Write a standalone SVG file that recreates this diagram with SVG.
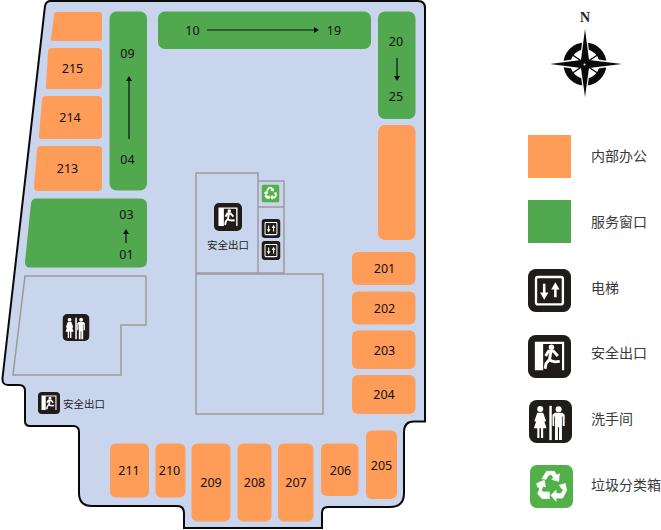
<svg xmlns="http://www.w3.org/2000/svg" width="661" height="530" viewBox="0 0 661 530">
<style>
text{font-family:"Noto Sans CJK SC","Liberation Sans",sans-serif;}
.n{font-family:"Noto Sans","Liberation Sans",sans-serif;font-size:12.5px;fill:#111;text-anchor:middle;}
.l{font-size:14px;fill:#3a3a3a;}
.s{font-size:10.5px;fill:#222;}
.o{fill:#ff9c58;}
.g{fill:#52a84e;}
.w{fill:none;stroke:#9b9b9b;stroke-width:1.5;}
.a{stroke:#111;stroke-width:1.2;fill:none;}
</style>
<defs>
<symbol id="lift" viewBox="0 0 44 44"><rect width="44" height="44" rx="8" fill="#1f1c19"/><rect x="8.200" y="8.200" width="27.500" height="28" rx="2" fill="none" stroke="#fff" stroke-width="2.400"/><path d="M16.600 15v10M28 20v9" fill="none" stroke="#fff" stroke-width="2.600"/><path d="M12.300 24h8.600l-4.300 7.500zM23.700 21h8.600L28 13.500z" fill="#fff"/></symbol>
<symbol id="exit" viewBox="0 0 44 44"><rect width="44" height="44" rx="8" fill="#1f1c19"/><path d="M7 7H37V36H34.800V9.200H15.500V36H7Z" fill="#fff"/><circle cx="24" cy="12.500" r="2.800" fill="#fff"/><path d="M18 21.500L21 16.500H26L30.500 21.500M23.500 16.500L22 25L24 26.500L27.500 27.500L32.500 27M22 25L18.500 29L17.500 34.500" fill="none" stroke="#fff" stroke-width="3"/></symbol>
<symbol id="wc" viewBox="0 0 44 44"><rect width="44" height="44" rx="8" fill="#1f1c19"/><g fill="#fff"><circle cx="11.500" cy="9.300" r="3.100"/><path d="M8.500 13H14.500L17.500 21.500L15.800 22.300L14.300 18L18 29H14.500V39H12.300V29H10.700V39H8.500V29H5L8.700 18L7.200 22.300L5.500 21.500Z"/><rect x="20.800" y="6" width="2.500" height="35"/><circle cx="30.300" cy="9.400" r="3.100"/><path d="M26.500 13H34L36.500 15V26.500H34.500V17H33.700V41H30.700V28H29.600V41H26.600V17H25.800V26.500H24V15Z"/></g></symbol>
<symbol id="rec" viewBox="0 0 44 44"><rect width="44" height="44" rx="7" fill="#52b048"/><g fill="#fff" stroke="#fff" stroke-width=".8" stroke-linejoin="round"><path d="M12.300 14L17 6.500H25L27.300 10.600L30 8.900L29.300 16.700L22.200 14.700L24.200 13.300L22.200 9.900H19.100L16.400 14.700Z"/><path d="M6.800 19L14.700 15.700L15.700 22.500L13.600 21.500L11.300 25.900L13.600 27.600H19.800V34.400H12.300L7.800 29.300L10.200 23.500L7.800 22.500Z"/><path d="M30 20.800L36 19L37.500 25.900L33.400 33.800H26.600V37.200L21.500 31L26.600 25.900V29.300H31.700L34 25.900Z"/></g></symbol>
</defs>

<g id="floor"><path d="M51 1H418Q425 1 425 8V421.500H414Q404 421.500 404 432V493Q404 507 390 507H328Q322 507 322 513V528H184V513Q184 506 177 506H92Q79 506 79 493V432Q79 426 73 426H30Q25 426 25 421V391Q25 385 19 385H8Q2 385 2.500 378L45 6Q46 1 51 1Z" fill="#c8d5ec" stroke="#0a0a0a" stroke-width="2"/></g>

<g id="walls" class="w">
<path class="w" d="M196 173H258V273H196Z"/>
<path class="w" d="M258 181H284V273H258M258 207H284"/>
<path class="w" d="M196 274H323V414H196Z"/>
<path class="w" d="M25 276H146V325H121V375H13Z"/>
</g>

<g id="offices-left">
<path id="r216" class="o" d="M57 12H99Q102 12 102 15V38Q102 41 99 41H53Q50 41 51 38L54 15Q54 12 57 12Z"/>
<path id="r215" class="o" d="M52 48H98Q102 48 102 52V85Q102 89 98 89H49Q45 89 46 85L48 52Q48 48 52 48Z"/>
<path id="r214" class="o" d="M46 96H98Q102 96 102 100V135Q102 139 98 139H42Q38 139 39 135L42 100Q42 96 46 96Z"/>
<path id="r213" class="o" d="M41 146H98Q102 146 102 150V187Q102 191 98 191H38Q34 191 34 187L37 150Q37 146 41 146Z"/>
</g>
<g id="windows">
<rect id="w0409" class="g" x="109.500" y="11.500" width="37.500" height="179" rx="7"/>
<rect id="w1019" class="g" x="158" y="11.500" width="213" height="37.500" rx="7"/>
<rect id="w2025" class="g" x="378" y="11.500" width="37.500" height="107.500" rx="7"/>
<path id="w0103" class="g" d="M36 198.500H140Q147 198.500 147 205V261Q147 267.500 140 267.500H30Q25 267.500 25 262L31 203Q32 198.500 36 198.500Z"/>
</g>
<g id="offices">
<rect class="o" x="378" y="125" width="37.500" height="115" rx="7"/>
<rect id="r201" class="o" x="352" y="252" width="63.500" height="33" rx="6"/>
<rect id="r202" class="o" x="352" y="291.500" width="63.500" height="33" rx="6"/>
<rect id="r203" class="o" x="352" y="330.500" width="63.500" height="38.500" rx="6"/>
<rect id="r204" class="o" x="352" y="375" width="63.500" height="39" rx="6"/>
<rect id="r205" class="o" x="366" y="430.500" width="31" height="68.500" rx="6"/>
<rect id="r206" class="o" x="321" y="443.500" width="37.500" height="52.500" rx="6"/>
<rect id="r207" class="o" x="278" y="443.500" width="35.500" height="78" rx="6"/>
<rect id="r208" class="o" x="237.500" y="443.500" width="34" height="78" rx="6"/>
<rect id="r209" class="o" x="191.500" y="443.500" width="39" height="78" rx="6"/>
<rect id="r210" class="o" x="155.500" y="443.500" width="30" height="54" rx="6"/>
<rect id="r211" class="o" x="110" y="443.500" width="39" height="54" rx="6"/>
</g>

<g id="connectors">
<path class="a" d="M129 139V79M207 30H316M397 58V78M126 243V232"/>
<path fill="#111" d="M129 76l-3 5h6zM319 30l-5-3v6zM397 81l-3-5h6zM126 229l-3 5h6z"/>
</g>

<g id="labels">
<text class="n" x="72.500" y="73">215</text>
<text class="n" x="70" y="122">214</text>
<text class="n" x="67.500" y="173">213</text>
<text class="n" x="127.500" y="58">09</text>
<text class="n" x="127.500" y="163.500">04</text>
<text class="n" x="126.500" y="218.500">03</text>
<text class="n" x="126.500" y="258.500">01</text>
<text class="n" x="192.500" y="35">10</text>
<text class="n" x="334" y="35">19</text>
<text class="n" x="396" y="46">20</text>
<text class="n" x="396" y="100.500">25</text>
<text class="n" x="384.500" y="273">201</text>
<text class="n" x="384.500" y="312.500">202</text>
<text class="n" x="384.500" y="354.500">203</text>
<text class="n" x="384" y="399">204</text>
<text class="n" x="381.500" y="469.500">205</text>
<text class="n" x="340.500" y="474.500">206</text>
<text class="n" x="296" y="487">207</text>
<text class="n" x="254.500" y="487">208</text>
<text class="n" x="211" y="487">209</text>
<text class="n" x="169.500" y="475">210</text>
<text class="n" x="129" y="475">211</text>
</g>

<g id="icons">
<use href="#exit" x="214" y="203" width="28" height="28"/>
<text class="s" x="207" y="249">安全出口</text>
<use href="#rec" x="261.500" y="184.500" width="18" height="18"/>
<use href="#lift" x="261.500" y="219" width="19" height="19"/>
<use href="#lift" x="261.500" y="241" width="19" height="19"/>
<use href="#wc" x="62.500" y="314" width="27" height="27"/>
<use href="#exit" x="38" y="392" width="22" height="22"/>
<text class="s" x="63" y="407.500">安全出口</text>
</g>

<g id="compass">
<text x="585" y="22" text-anchor="middle" style="font-family:'Liberation Serif',serif;font-weight:bold;font-size:14px" fill="#222">N</text>
<circle cx="585" cy="64" r="18" fill="none" stroke="#0a0a0a" stroke-width="7"/>
<path d="M585 64L578 61L581 58L585 29L589 58L592 61ZM585 64L592 61L595 60L622 64L595 68L592 67ZM585 64L592 67L589 70L585 97L581 70L578 67ZM585 64L578 67L575 68L550 64L575 60L578 61Z" fill="#fff" stroke="#fff" stroke-width="2"/>
<path d="M585 29L589 60L585 64ZM585 29L581 60L585 64ZM622 64L589 60L585 64ZM622 64L589 68L585 64ZM585 97L581 68L585 64ZM585 97L589 68L585 64ZM550 64L581 60L585 64ZM550 64L581 68L585 64Z" fill="#0a0a0a"/>
<path d="M571 54L583 62M599 54L587 62M571 74L583 66M599 74L587 66" stroke="#0a0a0a" stroke-width="1.500" fill="none"/>
<circle cx="584.500" cy="64.500" r="1" fill="#fff"/>
</g>

<g id="legend">
<rect class="o" x="528" y="135" width="43" height="43"/>
<rect class="g" x="528" y="200" width="43" height="43"/>
<use href="#lift" x="528" y="269" width="43" height="43"/>
<use href="#exit" x="528" y="335" width="43" height="43"/>
<use href="#wc" x="529" y="400" width="43" height="43"/>
<use href="#rec" x="530" y="465" width="43" height="43"/>
<text class="l" x="591" y="161">内部办公</text>
<text class="l" x="591" y="227">服务窗口</text>
<text class="l" x="591" y="293">电梯</text>
<text class="l" x="591" y="358">安全出口</text>
<text class="l" x="591" y="424">洗手间</text>
<text class="l" x="591" y="490">垃圾分类箱</text>
</g>
</svg>
